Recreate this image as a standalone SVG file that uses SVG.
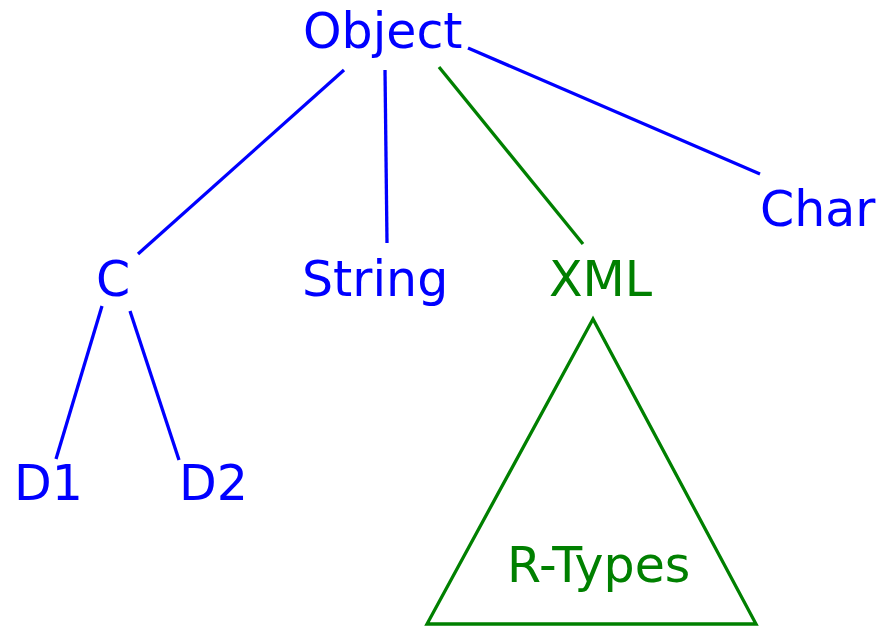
<svg xmlns="http://www.w3.org/2000/svg" width="880" height="626" viewBox="0 0 880 626">
<style>
text{font-family:"DejaVu Sans",sans-serif;font-size:49px}
.b{fill:#0000ff}.g{fill:#008000}
.lb{stroke:#0000ff;stroke-width:3.3;fill:none}
.lg{stroke:#008000;stroke-width:3.3;fill:none}
</style>
<rect width="880" height="626" fill="#fff"/>
<g id="connectors">
<line class="lb" x1="344" y1="70" x2="138" y2="254"/>
<line class="lb" x1="385" y1="70" x2="387" y2="243"/>
<line class="lg" x1="439" y1="67" x2="583" y2="244"/>
<line class="lb" x1="468" y1="48" x2="760" y2="174"/>
<line class="lb" x1="102" y1="306" x2="56" y2="459"/>
<line class="lb" x1="130" y1="311" x2="179" y2="460"/>
</g>
<g id="object"><text class="b" x="303" y="48">Object</text></g>
<g id="char"><text class="b" x="760" y="226">Char</text></g>
<g id="c"><text class="b" x="96" y="296">C</text></g>
<g id="string"><text class="b" x="302" y="296">String</text></g>
<g id="xml"><text class="g" x="549" y="296">XML</text></g>
<g id="d1"><text class="b" x="14" y="500">D1</text></g>
<g id="d2"><text class="b" x="179" y="500">D2</text></g>
<g id="rtypes"><polygon class="lg" points="593,319 427,624 756,624"/><text class="g" x="507" y="582">R-Types</text></g>
</svg>
